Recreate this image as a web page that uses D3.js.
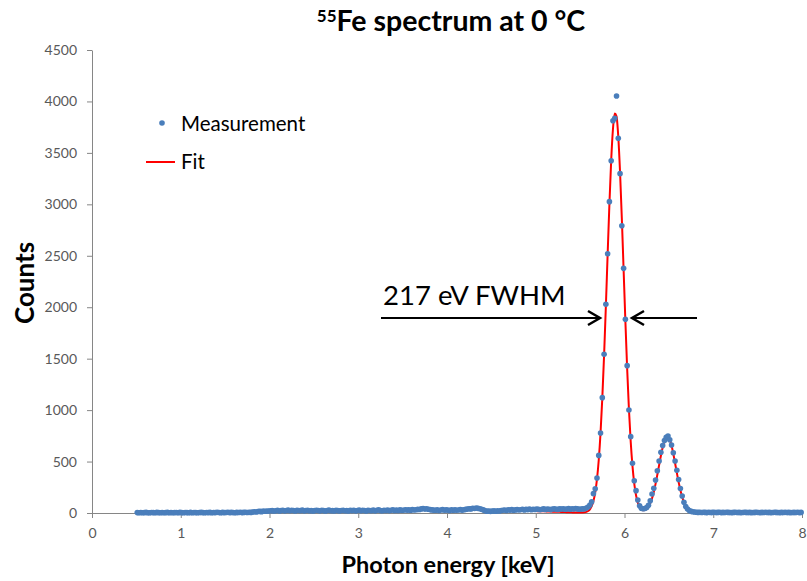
<!DOCTYPE html>
<html><head><meta charset="utf-8">
<script src="https://cdn.jsdelivr.net/npm/d3@7/dist/d3.min.js"></script>
<style>body{margin:0;background:#fff} svg{display:block}</style>
</head><body>
<svg id="c" width="807" height="581"></svg>
<script>
// ---- data ----
const channelStart = 0.51;   // keV, energy of first channel
const channelWidth = 0.02;   // keV per channel
const measuredCounts = [
 4,3,5,2,4,6,3,2,5,4, 3,6,4,2,5,3,4,6,3,5, 2,4,5,3,6,4,3,5,4,2, 6,3,5,4,3,5,6,4,3,5,
 4,6,3,5,4,7,5,3,6,4, 5,7,4,6,5,3,6,5,7,4, 6,8,5,7,6,
 9,12,10,14,16,13,18,17,20,19,22,
 24,19,22,26,20,23,27,21,25,28, 22,26,24,20,27,25,23,29,21,24, 26,22,25,19,23,27,24,21,26,23,
 20,25,28,22,24,19,26,23,21,25, 27,22,24,20,26,
 23,27,21,25,29,22,26,24,20,27, 25,23,28,21,26,30,24,22,27,25, 29,23,26,31,24,28,25,30,27,26,
 32,28,30,27,33,29,31,35,34,
 40,44,38,42,36,33,30,28,
 27,31,25,29,33,26,30,28,24,32,27,30,26,29,33,28,31,35,
 38,42,40,46,44,48,45,41,36,30,
 22,18,20,16,19,21,17,22,20,24,
 26,29,25,31,28,33,27,30,34,29, 32,36,30,35,33,38,31,36,34,39, 35,32,37,40,34,38,36,33,39,41,
 37,35,40,38,42,36,39,43,37,41, 38,44,40,36,
 38,40,42,48,58,78,110,188,235,340, 560,778,1121,1543,2029,2520,3026,3424,3813,3836,
 4053,3642,3298,2792,2378,1883,1432,1001,742,483, 314,217,126,70,46,42,44,52,75,118,
 185,240,320,410,505,590,655,705,736,748, 712,661,585,505,415,325,238,165,105,62,
 38,24,16,12,9,
 8,6,7,5,8,6,4,7,5,6, 7,5,6,8,4,6,5,7,6,5, 4,6,7,5,6,4,5,7,6,5,
 6,4,5,6,7,5,4,6,5,7, 5,6,4,5,7,6,5,4,6,5, 7,5,6,4,5,6,5,7,4,6
];
const fitStartChannel = 225;
const fitCounts = [
 18,18,17,17,16,16,15,15,14,13, 13,12,11,11,10,9,9,8,7,7, 6,5,5,4,4,
 4,5,7,11,20,36,66,117,201,330, 518,779,1119,1534,2010,2514,3004,3427,3732,3882,
 3855,3656,3310,2862,2362,1863,1402,1008,692,455, 285,172,100,57,35,27,28,42,62,96,
 142,205,283,372,465,557,637,697,733,740, 713,655,576,484,390,300,222,157,106,69,
 43,26,15,8,4,2,1,0,0,0, 0,0,0,0,0,0,0,0,0,0, 0,0,0,0,0,0
];
const xTicks = [0,1,2,3,4,5,6,7,8];
const yTicks = [0,500,1000,1500,2000,2500,3000,3500,4000,4500];
const seriesNames = ["Measurement", "Fit"];
const titleSup = "55", titleMain = "Fe spectrum at 0 °C";
const xTitle = "Photon energy [keV]", yTitle = "Counts";
const annotation = "217 eV FWHM";

// ---- build ----
const measured = measuredCounts.map((c, i) => ({e: channelStart + i * channelWidth, c}));
const fit = fitCounts.map((c, i) => ({e: channelStart + (fitStartChannel + i) * channelWidth, c}));

const svg = d3.select("#c");
const font = "Lato, 'Open Sans', sans-serif";
const x = d3.scaleLinear().domain([0, 8]).range([92, 802]);
const y = d3.scaleLinear().domain([0, 4500]).range([513, 50]);
const axisColor = "#868686", labelColor = "#595959";

// axes
const gx = svg.append("g").attr("transform", `translate(0,${y(0)})`)
  .call(d3.axisBottom(x).tickValues(xTicks).tickFormat(d3.format("d")).tickSize(5).tickSizeOuter(0).tickPadding(10));
const gy = svg.append("g").attr("transform", `translate(${x(0)},0)`)
  .call(d3.axisLeft(y).tickValues(yTicks).tickFormat(d3.format("d")).tickSize(5).tickSizeOuter(0).tickPadding(10));
[gx, gy].forEach(g => {
  g.select(".domain").attr("stroke", axisColor).attr("stroke-width", 1);
  g.selectAll(".tick line").attr("stroke", axisColor);
  g.selectAll(".tick text").attr("fill", labelColor).style("font-family", font).style("font-size", "14px");
});

// fit line
svg.append("path").datum(fit)
  .attr("fill", "none").attr("stroke", "#FF0000").attr("stroke-width", 2)
  .attr("d", d3.line().x(d => x(d.e)).y(d => y(d.c)).curve(d3.curveMonotoneX));

// measurement dots
svg.append("g").selectAll("circle").data(measured).join("circle")
  .attr("cx", d => x(d.e)).attr("cy", d => y(d.c)).attr("r", 2.8)
  .attr("fill", "#4A7EBB");

// title
const t = svg.append("text").attr("x", 451).attr("y", 31).attr("text-anchor", "middle")
  .style("font-family", font).style("font-weight", "bold").attr("fill", "#000");
t.append("tspan").text(titleSup).style("font-size", "17px").attr("dy", -9);
t.append("tspan").text(titleMain).style("font-size", "28.5px").attr("dy", 9);

// axis titles
svg.append("text").attr("x", 448).attr("y", 573).attr("text-anchor", "middle")
  .style("font-family", font).style("font-weight", "bold").style("font-size", "23.5px").text(xTitle);
svg.append("text").attr("transform", "translate(34,283) rotate(-90)").attr("text-anchor", "middle")
  .style("font-family", font).style("font-weight", "bold").style("font-size", "26px").text(yTitle);

// legend
svg.append("circle").attr("cx", 162).attr("cy", 123).attr("r", 2.8).attr("fill", "#4A7EBB");
svg.append("text").attr("x", 181).attr("y", 131).style("font-family", font).style("font-size", "20.5px").text(seriesNames[0]);
svg.append("line").attr("x1", 146).attr("x2", 175).attr("y1", 162).attr("y2", 162).attr("stroke", "#FF0000").attr("stroke-width", 2);
svg.append("text").attr("x", 181).attr("y", 169).style("font-family", font).style("font-size", "20.5px").text(seriesNames[1]);

// annotation
svg.append("text").attr("x", 383).attr("y", 305).style("font-family", font).style("font-size", "27.5px").text(annotation);
const ay = 318;
svg.append("line").attr("x1", 381).attr("x2", 599).attr("y1", ay).attr("y2", ay).attr("stroke", "#000").attr("stroke-width", 2);
svg.append("path").attr("d", `M588,${ay-7} L600,${ay} L588,${ay+7}`).attr("fill", "none").attr("stroke", "#000").attr("stroke-width", 2.5);
svg.append("line").attr("x1", 633).attr("x2", 697).attr("y1", ay).attr("y2", ay).attr("stroke", "#000").attr("stroke-width", 2);
svg.append("path").attr("d", `M644,${ay-7} L632,${ay} L644,${ay+7}`).attr("fill", "none").attr("stroke", "#000").attr("stroke-width", 2.5);
</script>
</body></html>
